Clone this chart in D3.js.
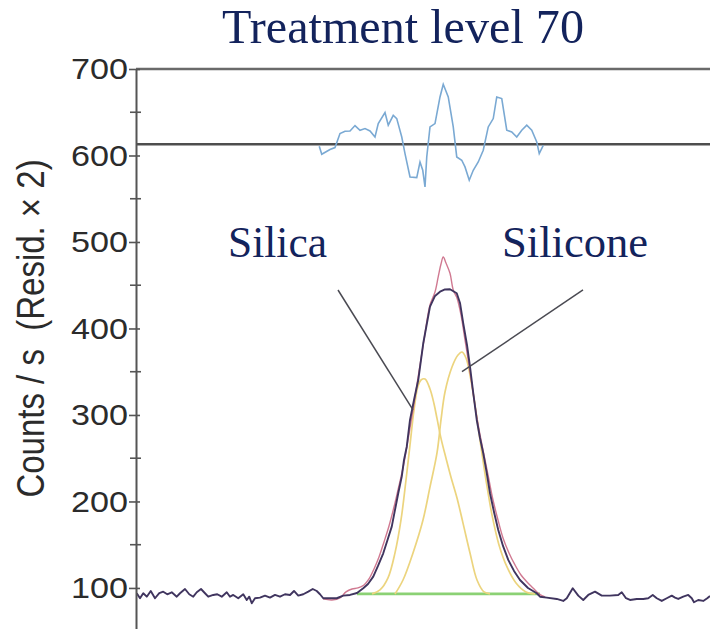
<!DOCTYPE html>
<html>
<head>
<meta charset="utf-8">
<script src="https://cdn.jsdelivr.net/npm/d3@7"></script>
<style>
  body { margin: 0; background: #fff; }
  svg { display: block; }
</style>
</head>
<body>
<script>
// Si 2p spectrum, binding energy (eV) vs counts/s
var spectrum = [
  [114.97,93.9],[114.84,88.1],[114.71,93.9],[114.57,89.9],[114.41,96.5],[114.24,88.1],[114.07,93.9],[113.91,95.7],
  [113.75,92.7],[113.57,95.0],[113.37,89.9],[113.24,93.9],[113.04,98.8],[112.87,92.7],[112.71,89.9],[112.57,95.0],
  [112.40,98.8],[112.24,93.9],[112.11,89.9],[111.91,91.9],[111.75,92.7],[111.57,89.9],[111.37,95.0],[111.24,89.9],
  [111.11,91.9],[110.91,88.1],[110.71,92.7],[110.57,86.1],[110.47,89.9],[110.37,82.3],[110.24,88.1],[110.04,88.8],
  [109.84,91.1],[109.64,88.8],[109.44,91.9],[109.24,89.9],[109.04,92.7],[108.84,91.9],[108.68,96.5],[108.51,91.1],
  [108.31,92.7],[108.11,95.7],[107.93,98.8],[107.77,96.5],[107.64,92.7],[107.51,88.1],[107.24,88.1],[106.97,88.1],
  [106.71,91.1],[106.44,91.9],
  [106.16,94.2],[105.91,99.7],[105.72,104.6],[105.51,113.1],[105.32,125.4],[105.11,140.1],[104.94,155.5],[104.77,170.9],
  [104.64,190.2],[104.51,209.5],[104.37,228.7],[104.28,248.0],[104.17,263.3],[104.04,294.2],[103.88,317.3],[103.71,340.4],
  [103.51,382.9],[103.24,425.2],[103.04,437.6],[102.84,442.5],[102.64,445.1],[102.44,445.3],[102.17,440.7],[102.04,429.5],
  [101.91,406.0],[101.76,380.9],[101.64,355.8],[101.51,325.4],[101.37,294.2],[101.24,273.4],[101.11,255.7],[100.97,232.9],
  [100.84,209.5],[100.68,187.9],[100.51,167.0],[100.32,148.6],[100.11,132.4],[99.88,119.7],[99.64,109.2],[99.32,100.0],
  [98.97,93.9],
  [98.84,89.9],[98.57,88.8],[98.17,87.3],[97.91,85.0],[97.77,88.1],[97.53,99.7],[97.31,91.1],[97.11,86.1],
  [96.91,91.9],[96.64,95.7],[96.37,91.1],[96.04,91.1],[95.71,91.9],[95.57,95.0],[95.40,88.1],[95.24,86.1],
  [94.97,87.3],[94.71,87.3],[94.51,88.1],[94.33,91.9],[94.17,88.1],[93.97,85.0],[93.77,88.1],[93.57,91.1],
  [93.44,88.8],[93.31,87.3],[93.11,89.9],[92.91,91.9],[92.77,88.1],[92.68,83.5],[92.51,86.1],[92.31,85.0],
  [92.15,88.1],[92.04,90.8]
];

var envelope = [
  [107.52,87.3],[107.16,86.1],[106.84,88.4],[106.60,95.4],[106.36,98.8],[106.12,100.0],[105.88,103.5],[105.68,110.4],
  [105.48,122.0],[105.28,135.8],[105.08,153.2],[104.88,171.7],[104.68,193.6],[104.52,213.3],[104.32,238.7],[104.12,271.1],
  [103.92,305.8],[103.72,342.8],[103.48,386.7],[103.24,427.1],[103.04,442.2],[102.91,459.9],[102.80,474.5],[102.71,482.6],
  [102.60,475.7],[102.44,463.8],[102.31,444.5],[102.16,435.2],[102.00,415.6],[101.84,386.7],[101.68,357.8],[101.52,326.6],
  [101.36,296.5],[101.20,271.1],[101.04,248.0],[100.88,224.8],[100.72,201.7],[100.52,178.6],[100.32,157.8],[100.08,140.5],
  [99.84,126.6],[99.60,115.0],[99.36,106.9],[99.12,100.0],[98.88,93.1],[98.64,89.6]
];

var silica = [
  [105.56,93.1],[105.24,97.7],[104.92,111.6],[104.64,140.5],[104.40,178.6],[104.20,224.8],[104.04,265.3],[103.88,305.8],
  [103.72,333.5],[103.60,340.4],[103.44,341.6],[103.24,330.0],[103.08,313.0],[102.96,296.0],[102.80,273.0],[102.60,250.0],
  [102.40,228.0],[102.16,204.0],[101.92,175.0],[101.64,140.5],[101.36,109.2],[101.08,95.4],[100.84,93.1]
];

var silicone = [
  [104.64,93.0],[104.32,109.2],[103.92,140.5],[103.52,178.6],[103.24,216.8],[102.96,256.1],[102.80,294.2],[102.64,326.6],
  [102.36,355.5],[102.12,369.3],[101.96,372.8],[101.80,365.9],[101.64,346.2],[101.44,311.5],[101.24,271.1],[101.00,224.8],
  [100.76,184.4],[100.48,149.7],[100.16,124.3],[99.80,105.8],[99.40,95.4],[99.04,93.1]
];

var background = [[106.16,93.1],[98.84,93.1]];

// residuals (x2), drawn around their own zero line
var residZero = 613;
var residuals = [
  [107.67,-2.3],[107.57,-11.6],[107.24,-6.1],[107.04,-3.8],[106.84,12.4],[106.64,15.0],[106.44,15.4],[106.24,21.6],
  [106.04,16.2],[105.84,18.1],[105.64,15.4],[105.44,8.4],[105.31,23.9],[105.04,36.6],[104.91,22.0],[104.71,33.5],
  [104.57,29.7],[104.37,8.4],[104.24,-10.8],[104.04,-37.8],[103.77,-38.5],[103.64,-20.5],[103.53,-30.1],[103.44,-49.4],
  [103.37,-14.7],[103.24,20.0],[103.04,23.9],[102.84,54.7],[102.71,69.4],[102.51,54.7],[102.31,20.0],[102.17,-14.7],
  [101.97,-18.5],[101.84,-26.2],[101.67,-41.6],[101.51,-30.1],[101.31,-20.5],[101.11,-6.9],[100.91,20.0],[100.71,29.7],
  [100.57,54.7],[100.37,52.8],[100.17,16.2],[99.97,14.2],[99.77,8.4],[99.57,16.2],[99.37,22.0],[99.17,16.2],
  [98.97,2.7],[98.87,-10.8],[98.71,-1.2]
];

var yTicks = [100, 200, 300, 400, 500, 600, 700];
var yMinor = [150, 250, 350, 450, 550, 650];

// label leader lines: [from, to] in (eV, counts)
var labels = [
  {name: "Silica", line: [[106.92,444.5],[103.92,305.8]]},
  {name: "Silicone", line: [[97.12,444.5],[101.96,350.0]]}
];

var width = 710, height = 629;

var x = d3.scaleLinear().domain([115, 92]).range([136, 711]);
var y = d3.scaleLinear().domain([50, 700]).range([631.2, 69]);

var svg = d3.select("body").append("svg")
    .attr("width", width)
    .attr("height", height)
    .style("background", "#fff");

var line = d3.line()
    .x(function(d) { return x(d[0]); })
    .y(function(d) { return y(d[1]); });

var smooth = d3.line()
    .curve(d3.curveCatmullRom)
    .x(function(d) { return x(d[0]); })
    .y(function(d) { return y(d[1]); });

// frame lines: top and residual zero
svg.append("line")
    .attr("x1", x(115)).attr("x2", width)
    .attr("y1", y(700)).attr("y2", y(700))
    .attr("stroke", "#6a6a6a").attr("stroke-width", 2.5);

svg.append("line")
    .attr("x1", x(115)).attr("x2", width)
    .attr("y1", y(residZero)).attr("y2", y(residZero))
    .attr("stroke", "#4e4e4e").attr("stroke-width", 2.5);

// residual trace
svg.append("path")
    .attr("d", line(residuals.map(function(d) { return [d[0], residZero + d[1]]; })))
    .attr("fill", "none")
    .attr("stroke", "#7aa9d3")
    .attr("stroke-width", 1.6);

// fitted components
svg.append("path")
    .attr("d", line(background))
    .attr("fill", "none")
    .attr("stroke", "#8bd174")
    .attr("stroke-width", 2.6);

[silica, silicone].forEach(function(c) {
  svg.append("path")
      .attr("d", smooth(c))
      .attr("fill", "none")
      .attr("stroke", "#ecd47e")
      .attr("stroke-width", 1.7);
});

svg.append("path")
    .attr("d", smooth(envelope))
    .attr("fill", "none")
    .attr("stroke", "#c8627e")
    .attr("stroke-opacity", 0.85)
    .attr("stroke-width", 1.4);

svg.append("path")
    .attr("d", line(spectrum))
    .attr("fill", "none")
    .attr("stroke", "#40355f")
    .attr("stroke-width", 1.9)
    .attr("stroke-linejoin", "round");

// y axis
var axis = svg.append("g")
    .attr("transform", "translate(" + x(115) + ",0)")
    .call(d3.axisLeft(y).tickValues(yTicks).tickSizeInner(7).tickSizeOuter(0).tickPadding(1));

axis.select(".domain").attr("stroke", "#555").attr("stroke-width", 2);
axis.selectAll(".tick line").attr("x1", 4).attr("stroke", "#555").attr("stroke-width", 1.6);
axis.selectAll(".tick text")
    .attr("fill", "#2b2b2b")
    .attr("font-family", "Liberation Sans, Arial, sans-serif")
    .attr("font-size", 30)
    .attr("textLength", 57)
    .attr("lengthAdjust", "spacingAndGlyphs");

axis.selectAll(".minor")
    .data(yMinor)
  .enter().append("line")
    .attr("class", "minor")
    .attr("x1", -6).attr("x2", 5)
    .attr("y1", function(d) { return y(d); })
    .attr("y2", function(d) { return y(d); })
    .attr("stroke", "#555").attr("stroke-width", 1.6);

svg.append("text")
    .attr("transform", "translate(31," + ((y(100) + y(700)) / 2) + ") scale(1.16,1) rotate(-90)")
    .attr("text-anchor", "middle")
    .attr("dy", "0.35em")
    .attr("fill", "#2b2b2b")
    .attr("font-family", "Liberation Sans, Arial, sans-serif")
    .attr("font-size", 33)
    .text("Counts / s \u00a0(Resid. \u00d7 2)");

// title
svg.append("text")
    .attr("x", 403)
    .attr("y", 43)
    .attr("text-anchor", "middle")
    .attr("fill", "#13235c")
    .attr("font-family", "Liberation Serif, Times New Roman, serif")
    .attr("font-size", 49)
    .attr("textLength", 362)
    .attr("lengthAdjust", "spacingAndGlyphs")
    .text("Treatment level 70");

// peak labels with leader lines
svg.selectAll(".leader")
    .data(labels)
  .enter().append("path")
    .attr("class", "leader")
    .attr("d", function(d) { return line(d.line); })
    .attr("stroke", "#4a4a52")
    .attr("stroke-width", 1.5);

svg.append("text")
    .attr("x", 228).attr("y", 257)
    .attr("fill", "#13235c")
    .attr("font-family", "Liberation Serif, Times New Roman, serif")
    .attr("font-size", 45)
    .attr("textLength", 99)
    .attr("lengthAdjust", "spacingAndGlyphs")
    .text(labels[0].name);

svg.append("text")
    .attr("x", 502).attr("y", 257)
    .attr("fill", "#13235c")
    .attr("font-family", "Liberation Serif, Times New Roman, serif")
    .attr("font-size", 45)
    .attr("textLength", 146)
    .attr("lengthAdjust", "spacingAndGlyphs")
    .text(labels[1].name);
</script>
</body>
</html>
